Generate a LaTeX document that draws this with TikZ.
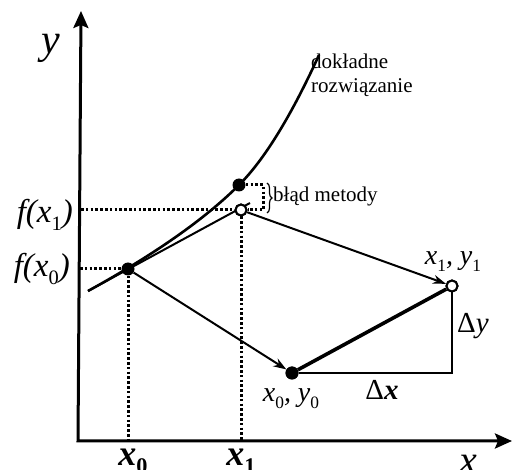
\documentclass[tikz,border=0pt]{standalone}
\usepackage{fontspec}
\setmainfont{Liberation Serif}
\usetikzlibrary{arrows.meta,decorations.pathreplacing}
\newcommand{\fsz}[1]{\fontsize{#1}{#1}\selectfont}
\newcommand{\sbs}[1]{\raisebox{-0.22em}{\upshape\fontsize{0.62em}{0.62em}\selectfont #1}}
\tikzset{
  axis/.style={line width=3pt,{Stealth[length=17pt,width=15pt,inset=3pt]}-{Stealth[length=17pt,width=15pt,inset=3pt]}},
  dotline/.style={line width=3pt,dash pattern=on 2.6pt off 2.2pt},
  thin/.style={line width=2pt},
  arr/.style={line width=2pt,-{Stealth[length=13pt,width=9pt]}},
  thick3/.style={line width=3.6pt},
  fdot/.style={circle,fill=black,inner sep=0pt,minimum size=13pt},
  odot/.style={circle,draw=black,fill=white,line width=2pt,inner sep=0pt,minimum size=11pt},
  lbl/.style={inner sep=0pt},
}
\begin{document}
\begin{tikzpicture}[x=1pt,y=-1pt]
\useasboundingbox (0,0) rectangle (512,470);
% axes
\coordinate (ytip) at (81,11);
\coordinate (orig) at (78,441);
\coordinate (xtip) at (512,441);
\draw[axis] (ytip) -- (orig) -- (xtip);
% coordinates
\coordinate (fx1) at (81,210);
\coordinate (fx0) at (80,269);
\coordinate (bx0) at (128,441);
\coordinate (bx1) at (241,441);
\coordinate (tanA) at (88,291);
\coordinate (tanB) at (250,203);
\coordinate (brA) at (263,185);
\coordinate (brB) at (263,210);
\coordinate (cS) at (88,291);
\coordinate (cM) at (239,185);
\coordinate (cE) at (319,55);
% curve
\draw[line width=2.6pt] (cS) .. controls (154.7,254.3) and (205,219) .. (cM)
   .. controls (264.3,159.7) and (291,116.3) .. (cE);
% tangent
\draw[thin] (tanA) -- (tanB);
% points
\node[fdot] (p0) at (128,269) {};
\node[fdot] (pc) at (cM) {};
\node[odot] (po) at (241,210) {};
\node[fdot] (q0) at (292,373) {};
\node[odot] (q1) at (452,286) {};
\coordinate (corner) at (452,373);
% dotted lines
\draw[dotline] (fx0) -- (p0.west);
\draw[dotline] (p0.south) -- (bx0);
\draw[dotline] (fx1) -- (po.west);
\draw[dotline] (po.south) -- (bx1);
\draw[dotline] (pc.east) -- (brA) -- (brB) -- (po.east);
% brace
\draw[line width=1.2pt,decorate,decoration={brace,amplitude=5pt}] (267,183) -- (267,213);
% arrows
\draw[arr] (po) -- (q1);
\draw[arr] (p0) -- (q0);
\draw[thick3] (q0) -- (q1);
\draw[line width=2.8pt] (q0) -- (corner) -- (q1.south);
\node[fdot] at (q0) {};
\node[odot] at (q1) {};
\node[odot] at (po) {};
% labels
\node[lbl] (ly) at (51,48) {\fsz{42}\itshape y};
\node[lbl,anchor=base east] (lf1) at (73,223) {\fsz{33}\itshape f(x\sbs{1})};
\node[lbl,anchor=base east] (lf0) at (70,277) {\fsz{33}\itshape f(x\sbs{0})};
\node[lbl,anchor=base west,align=left,font=\fsz{21}] (ldok) at (311,93) {dokładne\\[3pt]rozwiązanie};
\node[lbl,anchor=base west,font=\fsz{21}] (lbl1) at (273,202) {błąd metody};
\node[lbl,anchor=base] (lxy1) at (453,265) {\fsz{28}\itshape x\sbs{1}, y\sbs{1}};
\node[lbl,anchor=base] (lxy0) at (291,402) {\fsz{28}\itshape x\sbs{0}, y\sbs{0}};
\node[lbl,anchor=base] (ldx) at (382,400) {\fsz{29}Δ\textbf{\itshape x}};
\node[lbl,anchor=base] (ldy) at (473,333) {\fsz{29}Δ\textit{y}};
\node[lbl,anchor=base] (lx0) at (133,466) {\fsz{36}\bfseries\itshape x\sbs{0}};
\node[lbl,anchor=base] (lx1) at (241,466) {\fsz{36}\bfseries\itshape x\sbs{1}};
\node[lbl,anchor=base] (lx) at (468,474) {\fsz{40}\itshape x};
\end{tikzpicture}
\end{document}
